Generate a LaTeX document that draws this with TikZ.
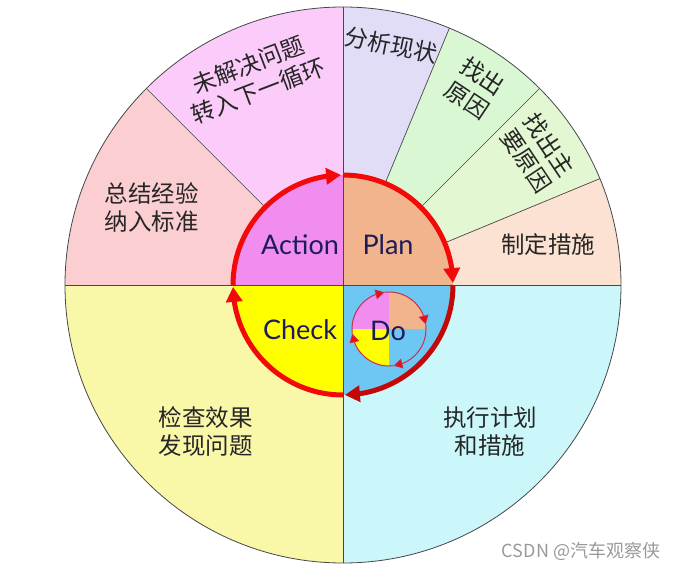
\documentclass[tikz,border=0pt]{standalone}
\usepackage{fontspec}
\setmainfont{Noto Sans CJK SC}
\newfontfamily\latinfont{Lato}
\usetikzlibrary{arrows.meta,bending,calc}
\definecolor{xianzhuang}{HTML}{E2DDF7}
\definecolor{yuanyin}{HTML}{D9F7D2}
\definecolor{zhuyao}{HTML}{E3F8D2}
\definecolor{cuoshi}{HTML}{FCE2D2}
\definecolor{xunhuan}{HTML}{FBCCFA}
\definecolor{biaozhun}{HTML}{FBCFD1}
\definecolor{jiancha}{HTML}{F9F7A8}
\definecolor{zhixing}{HTML}{CCF7FA}
\definecolor{actionc}{HTML}{F28DF0}
\definecolor{planc}{HTML}{F2B48C}
\definecolor{checkc}{HTML}{FFFF00}
\definecolor{doc}{HTML}{6EC6F2}
\definecolor{pdcared}{HTML}{F20A0A}
\definecolor{pdcadark}{HTML}{C40808}
\definecolor{minired}{HTML}{C8304A}
\definecolor{navy}{HTML}{1C1C5C}

\begin{document}
\begin{tikzpicture}[
    x=1pt, y=1pt,
    divider/.style={draw=gray!55!black, line width=0.7pt},
    pdcaarc/.style={draw=pdcared, line width=5pt, -{Triangle[length=15pt,width=16pt,flex]}},
    miniarc/.style={draw=minired, line width=1pt, -{Triangle[length=9pt,width=10pt,flex,fill=pdcared]}},
    phase/.style={font=\latinfont\fontsize{27}{27}\selectfont, text=navy},
    steptext/.style={font=\fontsize{23.5}{28}\selectfont, align=center, text=black!85}
]
\useasboundingbox (-343,-285) rectangle (339,285);

% Outer ring: Plan steps
\foreach \a/\c in {90/xianzhuang, 67.5/yuanyin, 45/zhuyao, 22.5/cuoshi}
    \fill[\c] (0,0) -- (\a:278pt) arc[start angle=\a, delta angle=-22.5, radius=278pt] -- cycle;
% Outer ring: Action steps
\fill[xunhuan] (0,0) -- (90:278pt) arc[start angle=90, end angle=135, radius=278pt] -- cycle;
\fill[biaozhun] (0,0) -- (135:278pt) arc[start angle=135, end angle=180, radius=278pt] -- cycle;
% Outer ring: Check and Do
\fill[jiancha] (0,0) -- (180:278pt) arc[start angle=180, end angle=270, radius=278pt] -- cycle;
\fill[zhixing] (0,0) -- (270:278pt) arc[start angle=270, end angle=360, radius=278pt] -- cycle;
\foreach \a in {67.5,45,22.5,135}
    \draw[divider] (0,0) -- (\a:278pt);

% Inner PDCA quadrants
\fill[actionc] (0,0) -- (90:110pt) arc[start angle=90, end angle=180, radius=110pt] -- cycle;
\fill[planc] (0,0) -- (0:110pt) arc[start angle=0, end angle=90, radius=110pt] -- cycle;
\fill[checkc] (0,0) -- (180:110pt) arc[start angle=180, end angle=270, radius=110pt] -- cycle;
\fill[doc] (0,0) -- (270:110pt) arc[start angle=270, end angle=360, radius=110pt] -- cycle;

% Small cycle inside Do
\coordinate (mini) at (46,-44);
\fill[actionc] (mini) -- ++(90:37pt) arc[start angle=90, end angle=180, radius=37pt] -- cycle;
\fill[planc] (mini) -- ++(0:37pt) arc[start angle=0, end angle=90, radius=37pt] -- cycle;
\fill[checkc] (mini) -- ++(180:37pt) arc[start angle=180, end angle=270, radius=37pt] -- cycle;
\foreach \a in {187,97,7,-83}
    \draw[miniarc] ($(mini)+(\a:37pt)$) arc[start angle=\a, delta angle=-90, radius=37pt];

% Axes
\draw[divider] (-278,0) -- (278,0);
\draw[divider] (0,-278) -- (0,278);

% Big PDCA arrows
\draw[pdcaarc] (180:110pt) arc[start angle=180, end angle=91, radius=110pt];
\draw[pdcaarc] (90:110pt) arc[start angle=90, end angle=1, radius=110pt];
\draw[pdcaarc, draw=pdcadark, -{Triangle[length=15pt,width=16pt,flex,fill=pdcadark]}] (0:110pt) arc[start angle=0, end angle=-89, radius=110pt];
\draw[pdcaarc] (270:110pt) arc[start angle=270, end angle=181, radius=110pt];

% Outer border
\draw[gray!55!black, line width=0.8pt] (0,0) circle[radius=278pt];

% Phase names
\node[phase] (action) at (-43,40) {Action};
\node[phase] (plan) at (45,40) {Plan};
\node[phase] (check) at (-43,-45) {Check};
\node[phase] (do) at (45,-46) {Do};

% Step texts
\node[steptext, rotate=-11.25] (s1) at (48,240) {分析现状};
\node[steptext, rotate=-33.75] (s2) at (132,197) {找出\\原因};
\node[steptext, rotate=-56.25] (s3) at (195,132) {找出主\\要原因};
\node[steptext] (s4) at (205,40) {制定措施};
\node[steptext, rotate=21] (a1) at (-90,207) {未解决问题\\转入下一循环};
\node[steptext] (a2) at (-191,78) {总结经验\\纳入标准};
\node[steptext] (c1) at (-137,-147) {检查效果\\发现问题};
\node[steptext] (d1) at (147,-147) {执行计划\\和措施};

% Watermark
\node[text=gray!80, font=\fontsize{18}{18}\selectfont] (mark) at (238,-266) {CSDN @汽车观察侠};
\end{tikzpicture}
\end{document}
